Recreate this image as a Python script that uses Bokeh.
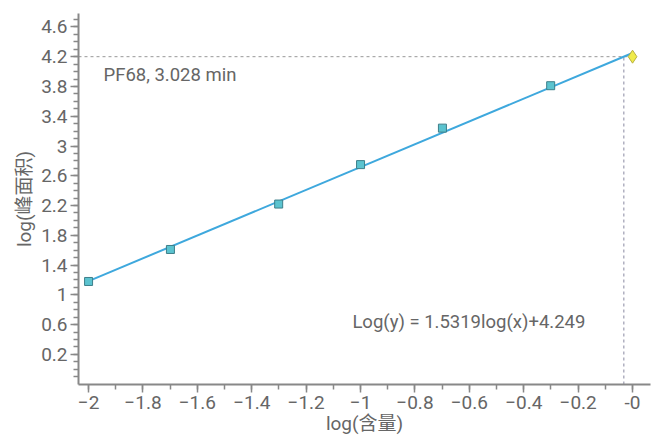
from bokeh.plotting import figure
from bokeh.models import Range1d, FixedTicker, Label, ColumnDataSource
from bokeh.embed import file_html
from bokeh.resources import INLINE

# Calibration standards (log content vs log peak area)
log_content = [-2.0, -1.699, -1.301, -1.0, -0.699, -0.301]
log_area = [1.18, 1.61, 2.22, 2.75, 3.24, 3.81]

# Fitted line
slope = 1.5319
intercept = 4.249
fit_x = [-2.0, 0.0]

# Unknown sample
sample_name = "PF68, 3.028 min"
sample_y = 4.2
sample_marker_x = 0.0
sample_x = (sample_y - intercept) / slope

x_ticks = [-2.0, -1.8, -1.6, -1.4, -1.2, -1.0, -0.8, -0.6, -0.4, -0.2, 0.0]
x_minor = [round(-2.0 + 0.1 * i, 1) for i in range(22)]
y_ticks = [0.2, 0.6, 1.0, 1.4, 1.8, 2.2, 2.6, 3.0, 3.4, 3.8, 4.2, 4.6]
y_minor = [round(-0.1 + 0.1 * i, 1) for i in range(49)]

FONT = "Roboto, 'Noto Sans CJK SC'"
GREY = "#666666"
AXIS = "#888888"

p = figure(width=652, height=437, output_backend="svg", toolbar_location=None,
           x_range=Range1d(-2.037, 0.066), y_range=Range1d(-0.204, 4.78),
           min_border_left=78, min_border_right=2, min_border_top=13, min_border_bottom=53)
p.outline_line_color = None
p.xgrid.visible = False
p.ygrid.visible = False
p.background_fill_color = "white"
p.border_fill_color = "white"

p.xaxis.ticker = FixedTicker(ticks=x_ticks, minor_ticks=x_minor)
p.yaxis.ticker = FixedTicker(ticks=y_ticks, minor_ticks=y_minor)
p.xaxis.major_label_overrides = {0: "-0", 0.0: "-0"}
p.yaxis.major_label_overrides = {1.0: "1", 3.0: "3"}

for ax in (p.xaxis[0], p.yaxis[0]):
    ax.axis_line_color = AXIS
    ax.axis_line_width = 2
    ax.major_tick_line_color = AXIS
    ax.minor_tick_line_color = AXIS
    ax.major_tick_line_width = 1.5
    ax.minor_tick_line_width = 1.5
    ax.major_tick_out = 8
    ax.major_tick_in = 0
    ax.minor_tick_out = 5
    ax.minor_tick_in = 0
    ax.major_label_text_font = FONT
    ax.major_label_text_font_size = "19px"
    ax.major_label_text_color = GREY
    ax.axis_label_text_font = FONT
    ax.axis_label_text_font_size = "19px"
    ax.axis_label_text_font_style = "normal"
    ax.axis_label_text_color = GREY

p.xaxis.axis_label = "log(含量)"
p.yaxis.axis_label = "log(峰面积)"
p.xaxis.major_label_standoff = 3
p.yaxis.major_label_standoff = 3
p.xaxis.axis_label_standoff = 0
p.yaxis.axis_label_standoff = 2

# Reference lines to the unknown
p.line([-2.037, sample_marker_x], [sample_y, sample_y], line_color="#999999",
       line_dash="3 3", line_width=1)
p.line([sample_x, sample_x], [-0.204, sample_y], line_color="#8888a0",
       line_dash="3 3", line_width=1)

# Regression line
p.line(fit_x, [slope * x + intercept for x in fit_x], line_color="#3ea8dd", line_width=2)

src = ColumnDataSource(dict(x=log_content, y=log_area))
p.scatter("x", "y", source=src, marker="square", size=8,
          fill_color="#5bc3cf", line_color="#3d7f8a", line_width=1)

p.scatter([sample_marker_x], [sample_y], marker="diamond", size=13,
          fill_color="#f0eb4a", line_color="#b8b040", line_width=1)

p.add_layout(Label(x=-1.945, y=3.96, text=sample_name, text_font=FONT,
                   text_font_size="18.5px", text_color=GREY,
                   text_align="left", text_baseline="middle"))
p.add_layout(Label(x=-1.03, y=0.64,
                   text="Log(y) = %.4flog(x)+%.3f" % (slope, intercept),
                   text_font=FONT, text_font_size="18.5px", text_color=GREY,
                   text_align="left", text_baseline="middle"))

open("out.html", "w").write(file_html(p, INLINE))
